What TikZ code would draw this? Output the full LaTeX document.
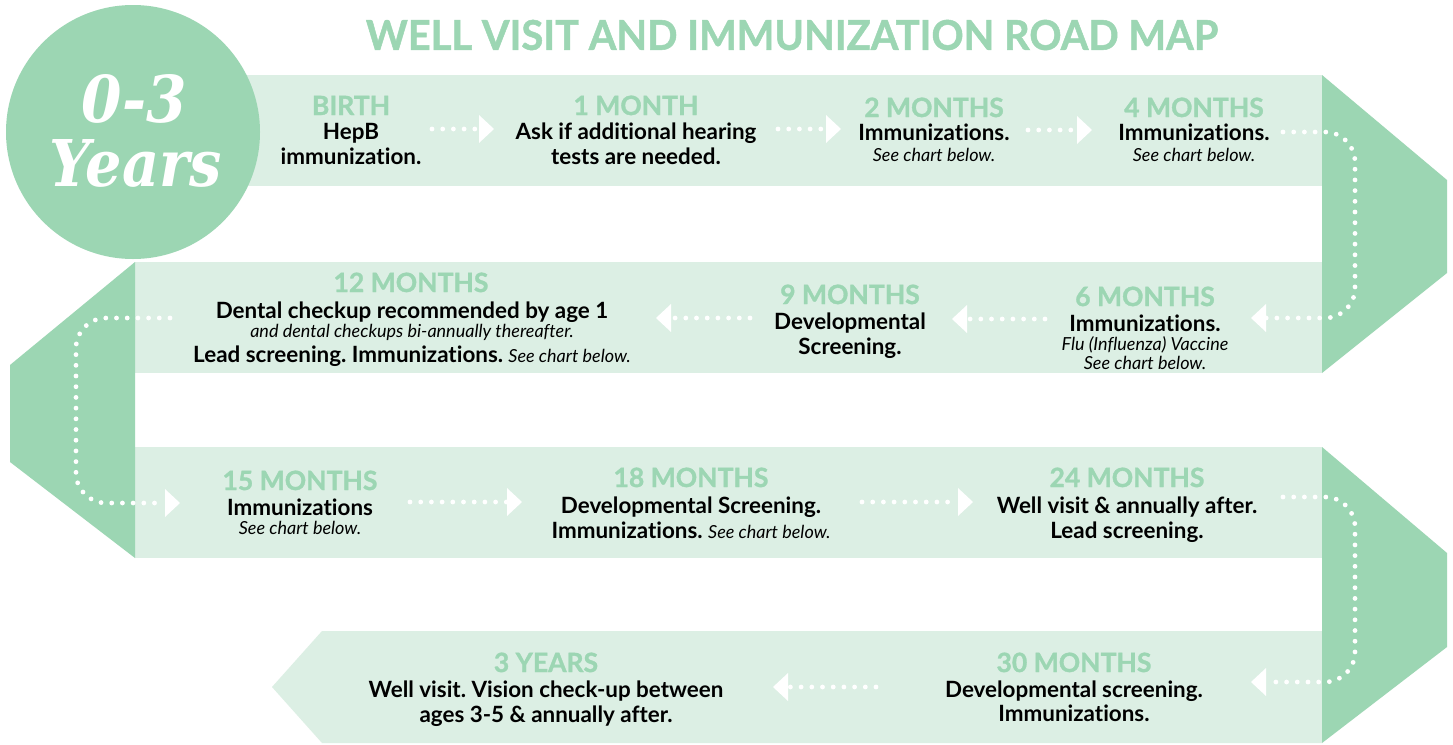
\documentclass[tikz,border=0pt]{standalone}
\usepackage{fontspec}
\usepackage{graphicx}
\setmainfont{Lato}[Ligatures=NoCommon]
\newfontfamily\headfont{Lato}[Ligatures=NoCommon, BoldFeatures={FakeBold=1.2}]
\newfontfamily\slabfont{DejaVu Serif}
\usetikzlibrary{arrows.meta}
\definecolor{dkgreen}{HTML}{9CD6B3}
\definecolor{ltgreen}{HTML}{DCEFE4}
\newcommand{\smallital}{\fontsize{18}{18}\selectfont\mdseries\itshape}
\frenchspacing
\begin{document}
\begin{tikzpicture}[x=1pt,y=-1pt,
  head/.style={anchor=base, text=dkgreen, font=\fontsize{26.5}{26.5}\selectfont\headfont\bfseries, inner sep=0pt},
  body/.style={anchor=base, text=black, font=\fontsize{22.4}{22.4}\selectfont\bfseries, inner sep=0pt},
  note/.style={anchor=base, text=black, font=\smallital, inner sep=0pt},
  dots/.style={draw=white, line width=4.8pt, line cap=round, dash pattern=on 0pt off 10.7pt},
  tip/.style={-{Triangle[width=28pt,length=15pt,line width=0pt]}},
  loop/.style={rounded corners=30pt},
]
\useasboundingbox (0,0) rectangle (1453,744);
\fill[white] (0,0) rectangle (1453,744);
% bands
\fill[ltgreen] (133,75) rectangle (1322,186);
\fill[ltgreen] (135,262) rectangle (1322,373);
\fill[ltgreen] (135,447) rectangle (1322,558);
\fill[ltgreen] (322,631) -- (1322,631) -- (1322,743) -- (322,743) -- (272,687) -- cycle;
% turns
\fill[dkgreen] (1322,75) -- (1447,180) -- (1447,273) -- (1322,373) -- cycle;
\fill[dkgreen] (135,262) -- (10,365) -- (10,462) -- (135,558) -- cycle;
\fill[dkgreen] (1322,447) -- (1447,553) -- (1447,647) -- (1322,743) -- cycle;
% circle
\fill[dkgreen] (133,132) circle[radius=127pt];
\node[text=white, inner sep=0pt] (yr1) at (134.5,99) {\resizebox{105pt}{48pt}{\slabfont\bfseries\itshape 0-3}};
\node[text=white, inner sep=0pt] (yr2) at (136,163.5) {\resizebox{172pt}{47pt}{\slabfont\bfseries\itshape Years}};
% title
\node[text=dkgreen, inner sep=0pt] (title) at (792,35) {\resizebox{852pt}{30pt}{\headfont\bfseries WELL VISIT AND IMMUNIZATION ROAD MAP}};

% row 1
\node[head] (h0) at (351,115) {BIRTH};
\node[body] (t0a) at (351,139) {HepB};
\node[body] (t0b) at (351,164) {immunization.};
\node[head] (h1) at (636,115) {1 MONTH};
\node[body] (t1a) at (636,139) {Ask if additional hearing};
\node[body] (t1b) at (636,164) {tests are needed.};
\node[head] (h2) at (934,117) {2 MONTHS};
\node[body] (t2a) at (934,140) {Immunizations.};
\node[note] (t2b) at (934,161) {See chart below.};
\node[head] (h4) at (1194,117) {4 MONTHS};
\node[body] (t4a) at (1194,140) {Immunizations.};
\node[note] (t4b) at (1194,161) {See chart below.};
% row 2
\node[head] (h12) at (411,292) {12 MONTHS};
\node[body] (t12a) at (412,318) {Dental checkup recommended by age 1};
\node[note] (t12b) at (412,337) {and dental checkups bi-annually thereafter.};
\node[body] (t12c) at (412,362) {Lead screening. Immunizations. {\smallital See chart below.}};
\node[head] (h9) at (850,304) {9 MONTHS};
\node[body] (t9a) at (850,329) {Developmental};
\node[body] (t9b) at (850,354) {Screening.};
\node[head] (h6) at (1145,306) {6 MONTHS};
\node[body] (t6a) at (1145,331) {Immunizations.};
\node[note] (t6b) at (1145,350) {Flu (Influenza) Vaccine};
\node[note] (t6c) at (1145,369) {See chart below.};
% row 3
\node[head] (h15) at (300,490) {15 MONTHS};
\node[body] (t15a) at (300,515) {Immunizations};
\node[note] (t15b) at (300,534) {See chart below.};
\node[head] (h18) at (691,487) {18 MONTHS};
\node[body] (t18a) at (691,513) {Developmental Screening.};
\node[body] (t18b) at (691,538) {Immunizations. {\smallital See chart below.}};
\node[head] (h24) at (1127,487) {24 MONTHS};
\node[body] (t24a) at (1127,513) {Well visit \& annually after.};
\node[body] (t24b) at (1127,538) {Lead screening.};
% row 4
\node[head] (h30) at (1074,672) {30 MONTHS};
\node[body] (t30a) at (1074,697) {Developmental screening.};
\node[body] (t30b) at (1074,721) {Immunizations.};
\node[head] (h3y) at (546,672) {3 YEARS};
\node[body] (t3ya) at (546,697) {Well visit. Vision check-up between};
\node[body] (t3yb) at (546,722) {ages 3-5 \& annually after.};

% connector coordinates
\coordinate (a1s) at (432,129); \coordinate (a1e) at (494,129);
\coordinate (a2s) at (778,129); \coordinate (a2e) at (841,129);
\coordinate (a3s) at (1028,130); \coordinate (a3e) at (1092,130);
\coordinate (l1s) at (1283,132); \coordinate (l1a) at (1355,132); \coordinate (l1b) at (1355,318); \coordinate (l1e) at (1251,318);
\coordinate (a4s) at (1045,319); \coordinate (a4e) at (952,319);
\coordinate (a5s) at (750,318); \coordinate (a5e) at (656,318);
\coordinate (l2s) at (170,318); \coordinate (l2a) at (76,318); \coordinate (l2b) at (76,503); \coordinate (l2e) at (180,503);
\coordinate (a6s) at (410,502); \coordinate (a6e) at (522,502);
\coordinate (a7s) at (862,502); \coordinate (a7e) at (973,502);
\coordinate (l3s) at (1283,497); \coordinate (l3a) at (1355,497); \coordinate (l3b) at (1355,682); \coordinate (l3e) at (1251,682);
\coordinate (a8s) at (876,687); \coordinate (a8e) at (773,687);

\draw[dots,tip] (a1s) -- (a1e);
\draw[dots,tip] (a2s) -- (a2e);
\draw[dots,tip] (a3s) -- (a3e);
\draw[dots,tip,loop] (l1s) -- (l1a) -- (l1b) -- (l1e);
\draw[dots,tip] (a4s) -- (a4e);
\draw[dots,tip] (a5s) -- (a5e);
\draw[dots,tip,loop] (l2s) -- (l2a) -- (l2b) -- (l2e);
\draw[dots,tip] (a6s) -- (a6e);
\draw[dots,tip] (a7s) -- (a7e);
\draw[dots,tip,loop] (l3s) -- (l3a) -- (l3b) -- (l3e);
\draw[dots,tip] (a8s) -- (a8e);
\end{tikzpicture}
\end{document}
